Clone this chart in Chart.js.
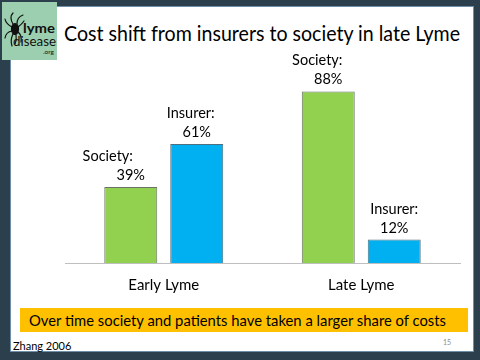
<!DOCTYPE html>
<html>
<head>
<meta charset="utf-8">
<script src="https://cdn.jsdelivr.net/npm/chart.js@4.4.1/dist/chart.umd.min.js"></script>
<style>
  html, body { margin: 0; padding: 0; }
  body { width: 480px; height: 360px; background: #2B3F4D; position: relative; overflow: hidden; font-family: Lato, "Open Sans", sans-serif; }
  #panel { position: absolute; left: 11px; top: 7px; width: 462px; height: 344px; background: #ffffff; box-shadow: 0 0 0 1px #6F8FA8; }
  #logo { position: absolute; left: 2px; top: 2px; width: 55px; height: 58px; background: #9BCFB0; }
  .fit { position: absolute; white-space: nowrap; line-height: 1; transform-origin: 0 0; color: #000; }
  #title { left: 64px; top: 22px; font-size: 21px; }
  #banner { position: absolute; left: 20px; top: 308px; width: 448px; height: 24px; background: #FFC000; }
  #bannerText { left: 9px; top: 4px; font-size: 16px; }
  #src { position: absolute; left: 13px; top: 339px; font-size: 11px; color: #000; white-space: nowrap; }
  #page { position: absolute; left: 443px; top: 338px; font-size: 7px; color: #8C8C8C; }
  #wrap { position: absolute; left: 0; top: 0; width: 480px; height: 360px; }
</style>
</head>
<body>
<div id="panel"></div>
<div id="logo">
  <svg width="55" height="58" viewBox="0 0 55 58">
    <g stroke="#111" stroke-width="1.2" fill="none" stroke-linecap="round">
      <ellipse cx="13" cy="27" rx="3.5" ry="5.5" fill="#111"/>
      <path d="M11 22 Q7 15 11 11"/><path d="M15 22 Q15 15 21 13"/>
      <path d="M10 25 Q4 22 3 17"/><path d="M10 29 Q4 30 3 36"/>
      <path d="M16 25 Q20 22 22 19"/><path d="M16 30 Q20 33 19 40"/>
      <path d="M11 32 Q8 38 10 44"/><path d="M14 33 Q15 38 13 42"/>
    </g>
    <text x="21" y="31" font-family="Lato, sans-serif" font-weight="bold" font-size="14" textLength="32" lengthAdjust="spacingAndGlyphs" fill="#111">lyme</text>
    <text x="11" y="44" font-family="Lato, sans-serif" font-size="13" textLength="43" lengthAdjust="spacingAndGlyphs" fill="#111">disease</text>
    <text x="41" y="52" font-family="Lato, sans-serif" font-size="6.5" fill="#111">.org</text>
  </svg>
</div>
<div id="title" class="fit" data-w="396">Cost shift from insurers to society in late Lyme</div>
<div id="banner"><div id="bannerText" class="fit" data-w="417">Over time society and patients have taken a larger share of costs</div></div>
<div id="src">Zhang 2006</div>
<div id="page">15</div>
<div id="wrap"><canvas id="chart" width="480" height="360"></canvas></div>
<script>
// ---- data ----
const categories = ['Early Lyme', 'Late Lyme'];
const seriesNames = ['Society:', 'Insurer:'];
const societyShare = [39, 88];
const insurerShare = [61, 12];

// ---- styling (not data) ----
const barColors = ['#92D050', '#00B0F0'];
const labelShift = [[-23, -11], [-6, 0]]; // horizontal shift of the first label line

// squeeze wide text to the slide's width (Calibri-like narrowness)
document.querySelectorAll('.fit').forEach(el => {
  const w = el.getBoundingClientRect().width;
  const target = +el.dataset.w;
  el.style.transform = 'scaleX(' + (target / w) + ')';
});

const labelPlugin = {
  id: 'twoLineLabels',
  afterDatasetsDraw(chart) {
    const ctx = chart.ctx;
    ctx.save();
    ctx.font = '14.5px Lato, "Open Sans", sans-serif';
    ctx.fillStyle = '#000';
    ctx.textAlign = 'center';
    ctx.textBaseline = 'alphabetic';
    chart.data.datasets.forEach((ds, di) => {
      const meta = chart.getDatasetMeta(di);
      meta.data.forEach((bar, i) => {
        const v = ds.data[i];
        ctx.fillText(v + '%', bar.x, bar.y - 7);
        ctx.fillText(ds.label, bar.x + labelShift[di][i], bar.y - 26);
      });
    });
    ctx.restore();
  }
};

new Chart(document.getElementById('chart'), {
  type: 'bar',
  data: {
    labels: categories,
    datasets: [
      { label: seriesNames[0], data: societyShare, backgroundColor: barColors[0], borderColor: '#6A7366', borderWidth: 1, borderSkipped: 'bottom' },
      { label: seriesNames[1], data: insurerShare, backgroundColor: barColors[1], borderColor: '#4F6E7E', borderWidth: 1, borderSkipped: 'bottom' }
    ]
  },
  options: {
    responsive: false,
    animation: false,
    devicePixelRatio: 1,
    layout: { padding: { left: 65, right: 20, top: 68, bottom: 53 } },
    datasets: { bar: { categoryPercentage: 0.668, barPercentage: 0.803 } },
    plugins: { legend: { display: false }, tooltip: { enabled: false }, title: { display: false } },
    scales: {
      x: {
        grid: { display: false, drawTicks: false },
        border: { display: true, color: '#BFBFBF', width: 1 },
        ticks: { color: '#000', font: { family: 'Lato, "Open Sans", sans-serif', size: 15 }, padding: 13 }
      },
      y: {
        display: false,
        min: 0,
        max: 100
      }
    }
  },
  plugins: [labelPlugin]
});
</script>
</body>
</html>
